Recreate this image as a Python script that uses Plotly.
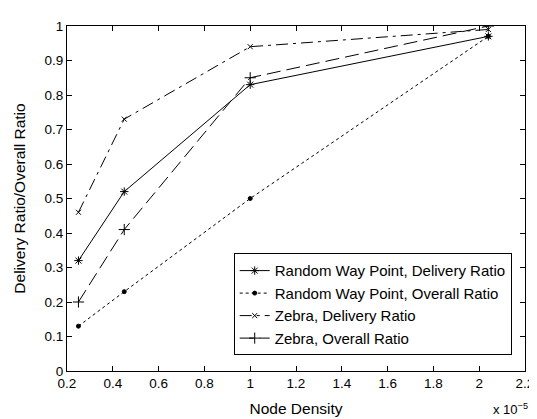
import plotly.graph_objects as go

# Node density (x 10^-5)
density = [0.25, 0.45, 1.0, 2.04]

rwp_delivery = [0.32, 0.52, 0.83, 0.97]
rwp_overall = [0.13, 0.23, 0.50, 0.97]
zebra_delivery = [0.46, 0.73, 0.94, 0.99]
zebra_overall = [0.20, 0.41, 0.85, 1.00]

x_ticks = [0.2, 0.4, 0.6, 0.8, 1, 1.2, 1.4, 1.6, 1.8, 2, 2.2]
y_ticks = [0, 0.1, 0.2, 0.3, 0.4, 0.5, 0.6, 0.7, 0.8, 0.9, 1]

series = [
    ('Random Way Point, Delivery Ratio', rwp_delivery, 'solid', 'asterisk-open', 7),
    ('Random Way Point, Overall Ratio', rwp_overall, 'dot', 'circle', 4),
    ('Zebra, Delivery Ratio', zebra_delivery, '12px,5px,3px,5px', 'x-thin-open', 5),
    ('Zebra, Overall Ratio', zebra_overall, '14px,6px', 'cross-thin-open', 8),
]

FONT = 'Liberation Sans, Arial, Helvetica, sans-serif'

fig = go.Figure()
for name, ys, dash, sym, size in series:
    fig.add_trace(go.Scatter(
        x=density, y=ys, name=name, mode='lines+markers',
        line=dict(color='black', width=1, dash=dash),
        marker=dict(symbol=sym, size=size, color='black',
                    line=dict(color='black', width=1)),
    ))

axis_common = dict(
    showgrid=False, zeroline=False, showline=True, linecolor='black', linewidth=1,
    mirror='ticks', ticks='inside', ticklen=5, tickcolor='black',
    tickfont=dict(family=FONT, size=13.5, color='black'),
)

# the page body adds 8px around the figure, so margins are shifted by that
fig.update_layout(
    width=537, height=419,
    margin=dict(l=58, r=20, t=11, b=56),
    plot_bgcolor='white', paper_bgcolor='white',
    font=dict(family=FONT, size=14, color='black'),
    xaxis=dict(range=[0.2, 2.2], tickvals=x_ticks,
               ticktext=[f'{v:g}' for v in x_ticks],
               title=dict(text='Node Density', standoff=12, font=dict(size=15.5)),
               **axis_common),
    yaxis=dict(range=[0, 1], tickvals=y_ticks,
               ticktext=[f'{v:g}' for v in y_ticks],
               title=dict(text='Delivery Ratio/Overall Ratio', standoff=15, font=dict(size=15.5)),
               **axis_common),
    legend=dict(x=0.971, y=0.341, xanchor='right', yanchor='top',
                bgcolor='white', bordercolor='black', borderwidth=1,
                font=dict(size=15), tracegroupgap=0),
    showlegend=True,
)

fig.add_annotation(x=1.011, y=0, xref='paper', yref='paper', xanchor='right', yanchor='middle',
                   yshift=-38, showarrow=False,
                   text='x 10<sup>\u22125</sup>', font=dict(size=13))

fig.write_html('out.html')
